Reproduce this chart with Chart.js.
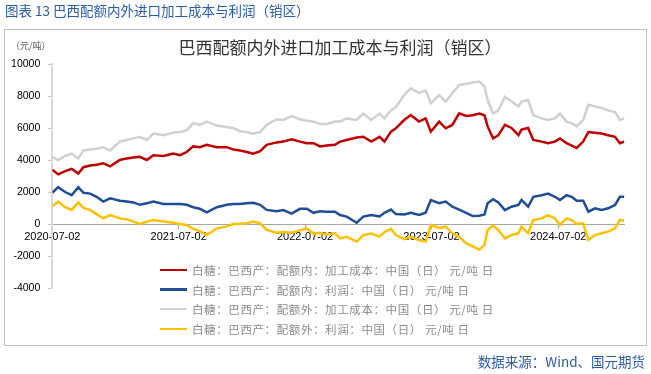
<!DOCTYPE html>
<html><head><meta charset="utf-8">
<script src="https://cdn.jsdelivr.net/npm/chart.js@4"></script>
<style>
html,body{margin:0;padding:0;background:#fff;}
#wrap{position:relative;width:651px;height:374px;overflow:hidden;font-family:"Noto Sans CJK SC",sans-serif;}
#hdr{position:absolute;left:5px;top:0px;font-size:13.5px;line-height:20px;color:#2B5CA5;white-space:nowrap;}
#box{position:absolute;left:4px;top:29px;width:643px;height:317px;border:1px solid #bfbfbf;box-sizing:border-box;}
#unit{position:absolute;left:11px;top:39px;font-size:9px;line-height:14px;color:#595959;white-space:nowrap;}
#ttl{position:absolute;left:0;width:680px;top:35px;text-align:center;font-size:17px;line-height:24px;color:#333;white-space:nowrap;}
canvas{position:absolute;left:0;top:0;}
#legend{position:absolute;left:160px;top:260px;}
.li{height:19.7px;display:flex;align-items:center;font-size:11.5px;letter-spacing:0.6px;color:#8c8c8c;white-space:nowrap;}
.sw{width:27px;height:2.5px;margin-right:5px;flex:none;}
#src{position:absolute;right:6px;top:351px;font-size:13.5px;line-height:20px;color:#2B5CA5;white-space:nowrap;}
</style></head>
<body>
<div id="wrap">
  <canvas id="c" width="651" height="374"></canvas>
  <div id="hdr">图表 13 巴西配额内外进口加工成本与利润（销区）</div>
  <div id="box"></div>
  <div id="unit">（元/吨）</div>
  <div id="ttl">巴西配额内外进口加工成本与利润（销区）</div>
  <div id="legend"></div>
  <div id="src">数据来源：Wind、国元期货</div>
</div>
<script>
const dates = ["2020-07-02","2020-07-19","2020-08-08","2020-08-27","2020-09-15","2020-09-30","2020-10-19","2020-11-07","2020-11-26","2020-12-16",
"2021-01-13","2021-02-02","2021-02-21","2021-03-12","2021-04-01","2021-04-20","2021-05-19","2021-06-16","2021-07-06","2021-07-25",
"2021-08-13","2021-09-01","2021-09-21","2021-10-20","2021-11-18","2021-12-07","2021-12-26","2022-01-14","2022-02-02","2022-02-22",
"2022-03-13","2022-04-11","2022-04-30","2022-05-24","2022-06-17","2022-07-07","2022-07-26","2022-08-14","2022-09-02","2022-09-26",
"2022-10-11","2022-10-30","2022-11-28","2022-12-17","2023-01-09","2023-02-02","2023-02-16","2023-03-07","2023-03-21","2023-04-14",
"2023-05-03","2023-05-27","2023-06-15","2023-06-30","2023-07-24","2023-08-12","2023-08-31","2023-09-20","2023-10-10","2023-10-29",
"2023-11-17","2023-12-02","2023-12-11","2023-12-27","2024-01-11","2024-01-30","2024-02-18","2024-03-09","2024-03-18","2024-04-06",
"2024-04-21","2024-05-15","2024-06-03","2024-06-22","2024-07-07","2024-07-26","2024-08-10","2024-08-24","2024-09-12","2024-09-27",
"2024-10-16","2024-11-04","2024-11-23","2024-12-13","2024-12-27","2025-01-09"];

const inQuotaCost = [3400,3100,3300,3450,3150,3550,3650,3700,3800,3600,
4000,4100,4150,4200,4000,4300,4250,4400,4300,4500,
4850,4800,4950,4800,4800,4650,4600,4500,4400,4550,
4950,5100,5150,5300,5150,5050,5050,4850,4900,4950,
5150,5250,5400,5450,5150,5450,5150,5770,5980,6500,
6810,6400,6600,5770,6400,5980,6190,6920,6750,6800,
6900,6800,6100,5350,5550,6200,6000,5550,5900,6000,
5250,5150,5050,5150,5350,5050,4900,4750,5150,5750,
5700,5650,5550,5450,5050,5150];

const inQuotaProfit = [1950,2300,2000,1800,2300,1950,1900,1700,1400,1600,
1450,1400,1350,1200,1300,1400,1250,1250,1250,1200,
1050,950,730,1050,1200,1250,1250,1300,1330,1200,
880,800,870,650,950,950,700,800,770,770,
560,460,80,460,560,470,700,900,620,600,
700,560,700,1500,1300,1400,1080,900,700,500,
520,600,1300,1550,1350,870,1080,1190,1500,1080,
1700,1800,1900,1700,1500,1800,1700,1450,1450,770,
980,870,980,1190,1700,1700];

const outQuotaCost = [4200,4000,4250,4400,4100,4600,4650,4700,4800,4600,
5150,5250,5350,5450,5250,5650,5550,5700,5750,5850,
6300,6200,6400,6150,6050,6000,5800,5750,5650,5750,
6200,6550,6500,6750,6550,6450,6400,6250,6250,6400,
6400,6600,6500,6900,6500,6900,6600,7100,7300,8060,
8480,8200,8350,7540,8060,7650,8170,8690,8750,8850,
8900,8600,7750,6900,7100,7950,7650,7350,7650,7750,
6800,6600,6500,6600,6900,6400,6300,6100,6500,7450,
7350,7250,7100,7000,6500,6600];

const outQuotaProfit = [1100,1400,1050,880,1350,1000,880,620,350,560,
350,290,150,0,150,250,150,80,0,-60,
-300,-450,-690,-270,-150,0,20,50,150,40,
-370,-540,-500,-550,-400,-280,-600,-550,-650,-580,
-900,-800,-1100,-690,-600,-790,-500,-300,-690,-950,
-800,-1000,-1100,-60,-250,-170,-580,-800,-1200,-1400,
-1600,-1300,-370,-100,-370,-900,-690,-580,-170,-580,
250,350,560,350,-60,350,250,0,40,-1000,
-690,-580,-480,-270,250,200];

const seriesNames = [
  "白糖：巴西产：配额内：加工成本：中国（日）  元/吨 日",
  "白糖：巴西产：配额内：利润：中国（日）  元/吨 日",
  "白糖：巴西产：配额外：加工成本：中国（日）  元/吨 日",
  "白糖：巴西产：配额外：利润：中国（日）  元/吨 日"
];
const seriesColors = ["#C00000","#1F4E96","#D0D0D0","#FFC000"];
const xTickLabels = ["2020-07-02","2021-07-02","2022-07-02","2023-07-02","2024-07-02"];
const yMin = -4000, yMax = 10000, yStep = 2000;

const base = Date.UTC(2020,6,2);
const dayOf = s => { const p = s.split('-').map(Number); return Math.round((Date.UTC(p[0],p[1]-1,p[2]) - base)/864e5); };
const pts = arr => arr.map((v,i) => ({x: dayOf(dates[i]), y: v}));
const seriesValues = [inQuotaCost, inQuotaProfit, outQuotaCost, outQuotaProfit];

// legend
const lg = document.getElementById('legend');
seriesNames.forEach((n,i) => {
  const d = document.createElement('div'); d.className = 'li';
  const s = document.createElement('span'); s.className = 'sw'; s.style.background = seriesColors[i];
  const t = document.createElement('span'); t.textContent = n;
  d.appendChild(s); d.appendChild(t); lg.appendChild(d);
});

new Chart(document.getElementById('c'), {
  type: 'line',
  data: {
    datasets: seriesValues.map((arr,i) => ({
      label: seriesNames[i], data: pts(arr), borderColor: seriesColors[i],
      backgroundColor: seriesColors[i], borderWidth: 2.5, pointRadius: 0, tension: 0, fill: false
    }))
  },
  options: {
    responsive: false, animation: false, devicePixelRatio: 1,
    layout: { padding: { left: 0, right: 26.6, top: 64, bottom: 86 } },
    plugins: { legend: { display: false }, tooltip: { enabled: false }, title: { display: false } },
    scales: {
      x: {
        type: 'linear', position: { y: 0 }, z: 1,
        min: 0, max: dayOf(dates[dates.length-1]),
        afterBuildTicks: s => { s.ticks = xTickLabels.map(t => ({ value: dayOf(t) })); },
        ticks: { autoSkip: false, maxRotation: 0, padding: 2, color: '#000',
          font: { family: 'Liberation Sans', size: 11 },
          callback: (v, i) => xTickLabels[i] },
        grid: { drawOnChartArea: false, drawTicks: true, tickLength: 4, color: '#a6a6a6' },
        border: { color: '#a6a6a6', width: 1 }
      },
      y: {
        type: 'linear', min: yMin, max: yMax,
        afterFit: s => { s.width = 52.3; },
        ticks: { stepSize: yStep, padding: 8, color: '#000',
          font: { family: 'Liberation Sans', size: 10.5 },
          callback: v => String(v) },
        grid: { drawOnChartArea: false, drawTicks: true, tickLength: 4, color: '#bfbfbf' },
        border: { color: '#d9d9d9', width: 2 }
      }
    }
  }
});
</script>
</body></html>
